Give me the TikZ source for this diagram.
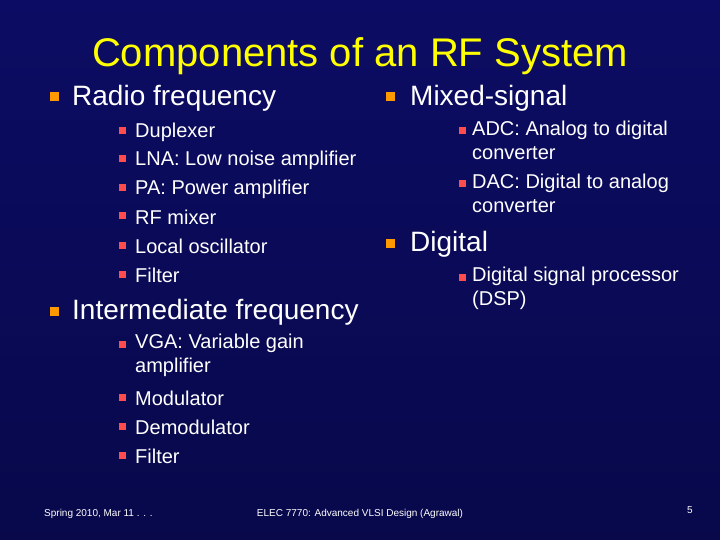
\documentclass[tikz,border=0pt]{standalone}
\usepackage{fontspec}
\setmainfont{Liberation Sans}
\begin{document}
\begin{tikzpicture}[x=1pt,y=-1pt,
  title/.style={anchor=center,text=titley,font=\fontsize{40}{44}\selectfont,inner sep=0},
  lone/.style={anchor=west,text=white,font=\fontsize{28}{32}\selectfont,inner sep=0},
  ltwo/.style={anchor=west,text=white,font=\fontsize{20}{24}\selectfont,inner sep=0,align=left},
  foot/.style={text=white,font=\fontsize{10}{12}\selectfont,inner sep=0},
  bone/.style={fill=orange!80!yellow,minimum size=9pt,inner sep=0,anchor=center},
  btwo/.style={fill=red!70!white,minimum size=7pt,inner sep=0,anchor=center}]
\definecolor{titley}{RGB}{255,255,0}
\definecolor{bgtop}{RGB}{12,12,100}
\definecolor{bgbot}{RGB}{8,8,75}
\shade[top color=bgtop,bottom color=bgbot] (0,0) rectangle (720,540);
\useasboundingbox (0,0) rectangle (720,540);
\node[title] (t) at (360,56) {Components of an RF System};
% left column
\node[bone] (b1) at (54,97) {}; \node[lone] (rf) at (72,98) {Radio frequency};
\foreach \y/\t [count=\i] in {132/Duplexer,160/LNA: Low noise amplifier,189/PA: Power amplifier,217/RF mixer,246/Local oscillator,275/Filter}{
  \node[btwo] (rb\i) at (122,\y-1) {}; \node[ltwo] (rt\i) at (135,\y) {\t};}
\node[bone] (b2) at (54,311) {}; \node[lone] (if) at (72,312) {Intermediate frequency};
\node[btwo] (ib1) at (122,344) {}; \node[ltwo,anchor=north west] (it1) at (135,334) {VGA: Variable gain\\amplifier};
\foreach \y/\t [count=\i from 2] in {398/Modulator,427/Demodulator,456/Filter}{
  \node[btwo] (ib\i) at (122,\y-1) {}; \node[ltwo] (it\i) at (135,\y) {\t};}
% right column
\node[bone] (b3) at (390,97) {}; \node[lone] (ms) at (410,98) {Mixed-signal};
\node[btwo] (mb1) at (462,131) {}; \node[ltwo,anchor=north west] (mt1) at (472,121) {ADC: Analog to digital\\converter};
\node[btwo] (mb2) at (462,184) {}; \node[ltwo,anchor=north west] (mt2) at (472,174) {DAC: Digital to analog\\converter};
\node[bone] (b4) at (390,243) {}; \node[lone] (dg) at (410,244) {Digital};
\node[btwo] (db1) at (462,277) {}; \node[ltwo,anchor=north west] (dt1) at (472,267) {Digital signal processor\\(DSP)};
% footer
\node[foot,anchor=west] (f1) at (44,514) {Spring 2010, Mar 11 . . .};
\node[foot,anchor=center] (f2) at (360,514) {ELEC 7770: Advanced VLSI Design (Agrawal)};
\node[foot,anchor=center] (f3) at (690,510) {5};
\end{tikzpicture}
\end{document}
